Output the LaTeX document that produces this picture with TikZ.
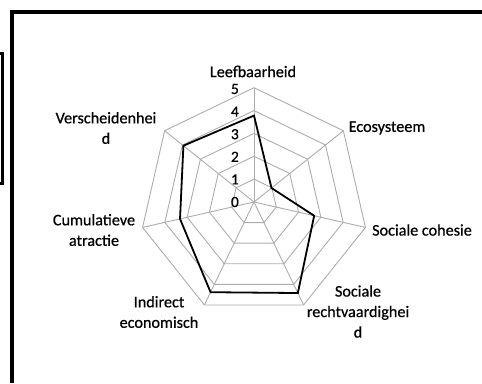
\documentclass[tikz,border=0pt]{standalone}
\usepackage{fontspec}
\setmainfont{Carlito}
\newfontfamily\chartfont{Carlito}[FakeBold=0.6]
\usetikzlibrary{calc}
\begin{document}
\begin{tikzpicture}[x=1pt,y=1pt,
  gridline/.style={draw=black!32,line width=0.9pt},
  dataline/.style={draw=black,line width=1.8pt,line join=miter},
  framel/.style={draw=black,line width=4pt},
  lbl/.style={font=\chartfont\fontsize{16.2}{20.5}\selectfont,align=center,inner sep=0pt},
  lbls/.style={font=\chartfont\fontsize{16.2}{20.5}\selectfont,inner sep=0pt},
  num/.style={font=\chartfont\fontsize{15.5}{18}\selectfont,anchor=east,inner sep=0pt}]
\useasboundingbox (0,0) rectangle (482,383);
\fill[white] (0,0) rectangle (482,383);
% frame
\draw[framel,line join=miter] (482,371) -- (11.5,371) -- (11.5,0);
\draw[draw=black,line width=3pt] (0,329.5) -- (2.5,329.5) -- (2.5,199) -- (0,199);
% radar
\def\u{22.86}
\coordinate (O) at (254,181);
\foreach \k in {0,...,6}{
  \coordinate (a\k) at ($(O)+({90-\k*360/7}:5*\u)$);
}
\foreach \r in {1,...,5}{
  \draw[gridline] ($(O)+(90:\r*\u)$)
    \foreach \k in {1,...,6}{ -- ($(O)+({90-\k*360/7}:\r*\u)$)} -- cycle;
}
\foreach \k in {0,...,6}{ \draw[gridline] (O) -- (a\k); }
% data
\coordinate (d0) at ($(O)+(90:3.78*\u)$);
\coordinate (d1) at ($(O)+({90-1*360/7}:0.98*\u)$);
\coordinate (d2) at ($(O)+({90-2*360/7}:2.7*\u)$);
\coordinate (d3) at ($(O)+({90-3*360/7}:4.42*\u)$);
\coordinate (d4) at ($(O)+({90-4*360/7}:4.38*\u)$);
\coordinate (d5) at ($(O)+({90-5*360/7}:3.32*\u)$);
\coordinate (d6) at ($(O)+({90-6*360/7}:3.95*\u)$);
\draw[dataline] (d0) -- (d1) -- (d2) -- (d3) -- (d4) -- (d5) -- (d6) -- cycle;
% axis numbers
\foreach \n in {0,...,5}{
  \node[num] (n\n) at (239,{181+\n*22.6}) {\n};
}
% labels
\node[lbls] (l0) at (253,311.5) {Leefbaarheid};
\node[lbls] (l1) at (387,255) {Ecosysteem};
\node[lbls] (l2) at (422,153) {Sociale cohesie};
\node[lbl] (l3) at (358,71.5) {Sociale\\rechtvaardighei\\d};
\node[lbl] (l4) at (159,71) {Indirect\\economisch};
\node[lbl] (l5) at (94,153) {Cumulatieve\\atractie};
\node[lbl] (l6) at (106,255) {Verscheidenhei\\d};
\end{tikzpicture}
\end{document}
